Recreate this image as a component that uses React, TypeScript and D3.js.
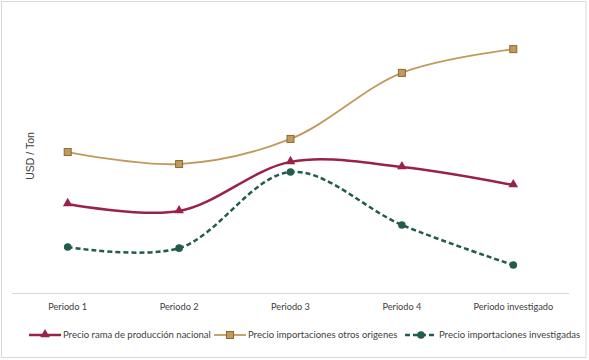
import React, { useEffect, useRef } from 'react';
import * as d3 from 'd3';

const periods = ['Periodo 1', 'Periodo 2', 'Periodo 3', 'Periodo 4', 'Periodo investigado'];
const precioNacional = [330, 304, 484, 465, 399];
const precioOtros = [520, 476, 568, 810, 897];
const precioInvestigadas = [172, 168, 447, 253, 106];

const seriesNames = [
  'Precio rama de producción nacional',
  'Precio importaciones otros origenes',
  'Precio importaciones investigadas',
];

const W = 589, H = 360;

const App = () => {
  const ref = useRef<SVGSVGElement>(null);

  useEffect(() => {
    const svg = d3.select(ref.current);
    svg.selectAll('*').remove();

    const font = 'Lato, "Open Sans", sans-serif';
    const margin = { top: 20, left: 12, right: 20, bottom: 67 };
    const width = 569 - margin.left;
    const height = 293 - margin.top;

    // chart frame
    svg.append('rect')
      .attr('x', 1.5).attr('y', 1.5)
      .attr('width', W - 4.5).attr('height', H - 4)
      .attr('fill', '#fff')
      .attr('stroke', '#d9d9d9');

    const g = svg.append('g').attr('transform', `translate(${margin.left},${margin.top})`);

    const x = d3.scaleBand().domain(periods).range([0, width]);
    const y = d3.scaleLinear().domain([0, 1000]).range([height + 1, 1]);

    // axis line
    g.append('line')
      .attr('x1', 0).attr('x2', width)
      .attr('y1', height + 0.5).attr('y2', height + 0.5)
      .attr('stroke', '#d9d9d9');

    g.selectAll('.tick-label')
      .data(periods)
      .join('text')
      .attr('x', d => x(d)! + x.bandwidth() / 2)
      .attr('y', height + 17)
      .attr('text-anchor', 'middle')
      .attr('font-family', font)
      .attr('font-size', 9.2)
      .attr('fill', '#404040')
      .text(d => d);

    // Y axis label
    svg.append('text')
      .attr('transform', 'rotate(-90)')
      .attr('x', -156)
      .attr('y', 34)
      .attr('text-anchor', 'middle')
      .attr('font-family', '"Liberation Sans", Arial, sans-serif')
      .attr('font-size', 10.5)
      .attr('fill', '#404040')
      .text('USD / Ton');

    const cx = (i: number) => x(periods[i])! + x.bandwidth() / 2;
    const line = d3.line<number>()
      .x((d, i) => cx(i))
      .y(d => y(d))
      .curve(d3.curveCatmullRom.alpha(0.5));

    const series = [
      { values: precioOtros, color: '#c19a5b', stroke: '#8a6a32', width: 1.8, dash: null, marker: 'square' },
      { values: precioNacional, color: '#9b2247', stroke: '#9b2247', width: 2.5, dash: null, marker: 'triangle' },
      { values: precioInvestigadas, color: '#235b4e', stroke: '#235b4e', width: 2.5, dash: '5,3', marker: 'circle' },
    ];

    const drawMarker = (sel: any, marker: string, color: string, stroke: string, px: number, py: number) => {
      if (marker === 'square') {
        sel.append('rect')
          .attr('x', px - 3.5).attr('y', py - 3.5)
          .attr('width', 7).attr('height', 7)
          .attr('fill', color).attr('stroke', stroke).attr('stroke-width', 1);
      } else if (marker === 'triangle') {
        sel.append('path')
          .attr('d', d3.symbol().type(d3.symbolTriangle).size(40)())
          .attr('transform', `translate(${px},${py - 0.5})`)
          .attr('fill', color);
      } else {
        sel.append('circle')
          .attr('cx', px).attr('cy', py).attr('r', 3.8)
          .attr('fill', color);
      }
    };

    series.forEach(s => {
      g.append('path')
        .datum(s.values)
        .attr('d', line)
        .attr('fill', 'none')
        .attr('stroke', s.color)
        .attr('stroke-width', s.width)
        .attr('stroke-dasharray', s.dash);
      s.values.forEach((v, i) => drawMarker(g, s.marker, s.color, s.stroke, cx(i), y(v)));
    });

    // legend
    const legendItems = [
      { name: seriesNames[0], x0: 29, s: series[1] },
      { name: seriesNames[1], x0: 214, s: series[0] },
      { name: seriesNames[2], x0: 405, s: series[2] },
    ];
    const ly = 335;
    const lg = svg.append('g');
    legendItems.forEach(it => {
      lg.append('line')
        .attr('x1', it.x0).attr('x2', it.x0 + 32)
        .attr('y1', ly).attr('y2', ly)
        .attr('stroke', it.s.color)
        .attr('stroke-width', it.s.width)
        .attr('stroke-dasharray', it.s.dash);
      drawMarker(lg, it.s.marker, it.s.color, it.s.stroke, it.x0 + 16, ly);
      lg.append('text')
        .attr('x', it.x0 + 34)
        .attr('y', ly + 3)
        .attr('font-family', font)
        .attr('font-size', 9.5)
        .attr('fill', '#404040')
        .text(it.name);
    });
  }, []);

  return (
    <div style={{ position: 'absolute', left: 0, top: 0 }}>
      <svg ref={ref} width={W} height={H} style={{ display: 'block' }} />
    </div>
  );
};

export default App;
